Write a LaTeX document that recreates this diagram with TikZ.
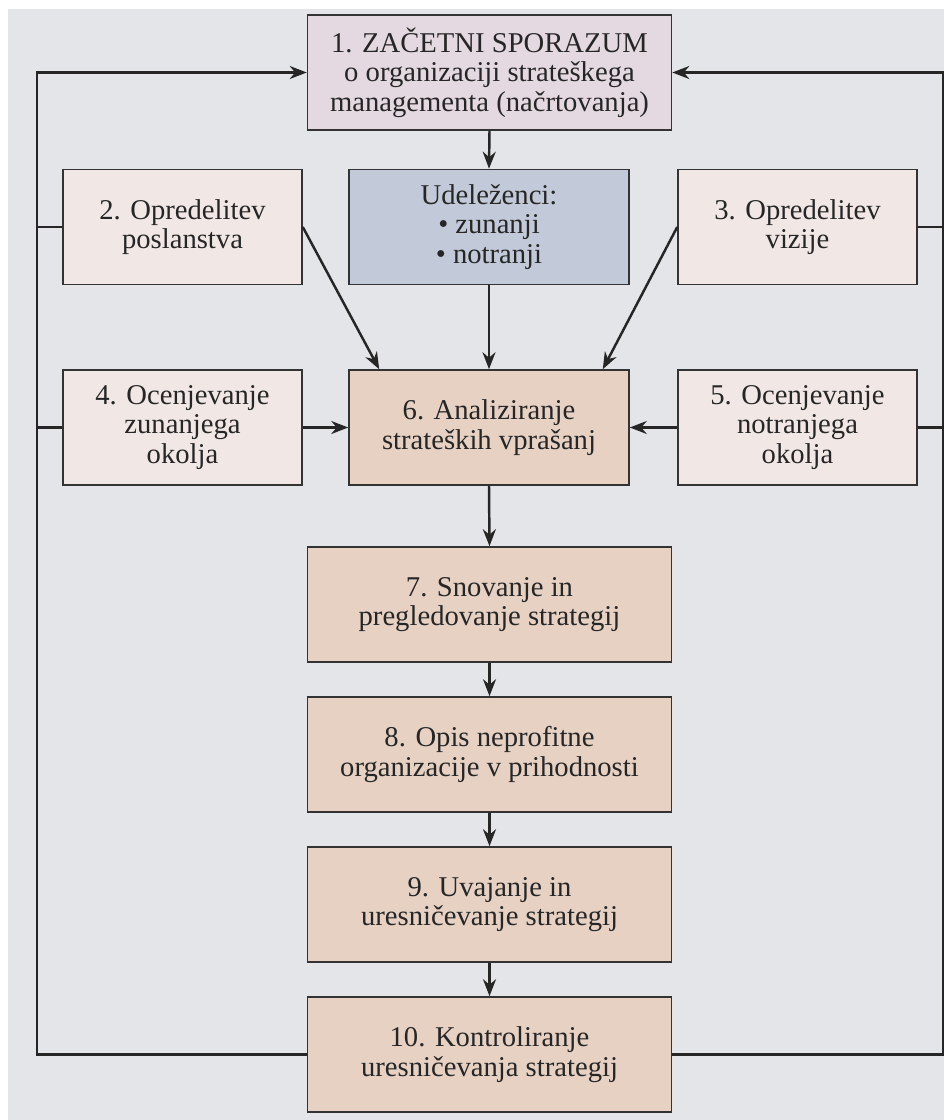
\documentclass[tikz,border=0pt]{standalone}
\usepackage{fontspec}
\setmainfont{Liberation Serif}
\usetikzlibrary{arrows.meta}
\definecolor{bggray}{HTML}{E3E5E8}
\definecolor{startfill}{HTML}{E4D9E0}
\definecolor{udelfill}{HTML}{C2CAD9}
\definecolor{sidefill}{HTML}{F1E8E5}
\definecolor{stepfill}{HTML}{E6D1C3}
\definecolor{boxline}{HTML}{333333}
\definecolor{lineblack}{HTML}{262626}

\begin{document}
\begin{tikzpicture}[x=0.2mm, y=0.2mm]
    \tikzstyle{every node}+=[inner sep=0pt, align=center, text=black!85,
        font=\fontsize{16.3}{16.8}\selectfont]
    \tikzstyle{box}=[draw=boxline, line width=0.9pt, minimum height=2.3cm]
    \tikzstyle{wide}=[box, minimum width=7.28cm]
    \tikzstyle{mid}=[box, minimum width=5.6cm]
    \tikzstyle{side}=[box, fill=sidefill, minimum width=4.78cm]
    \tikzstyle{link}=[draw=lineblack, line width=1.4pt]
    \tikzstyle{arr}=[link, -{Stealth[length=0.34cm,width=0.26cm]}]

    \useasboundingbox (0,0) rectangle (944,-1120);
    \fill [bggray] (8,-9) rectangle (944,-1120);

    % top of the loop
    \node [wide, fill=startfill] (start) at (489.5,-72.5)
        {1. ZAČETNI SPORAZUM\\o organizaciji strateškega\\managementa (načrtovanja)};
    \node [mid, fill=udelfill] (udel) at (489,-227)
        {Udeleženci:\\\textbullet\ zunanji\\\textbullet\ notranji};
    \node [side] (mission) at (182.5,-227) {2. Opredelitev\\poslanstva};
    \node [side] (vision) at (797.5,-227) {3. Opredelitev\\vizije};
    \node [side] (external) at (182.5,-427.5) {4. Ocenjevanje\\zunanjega\\okolja};
    \node [mid, fill=stepfill] (analysis) at (489,-427.5)
        {6. Analiziranje\\strateških vprašanj};
    \node [side] (internal) at (797.5,-427.5) {5. Ocenjevanje\\notranjega\\okolja};

    % main column
    \node [wide, fill=stepfill] (design) at (489.5,-604.5)
        {7. Snovanje in\\pregledovanje strategij};
    \node [wide, fill=stepfill] (future) at (489.5,-754.5)
        {8. Opis neprofitne\\organizacije v prihodnosti};
    \node [wide, fill=stepfill] (impl) at (489.5,-904.5)
        {9. Uvajanje in\\uresničevanje strategij};
    \node [wide, fill=stepfill] (control) at (489.5,-1054.5)
        {10. Kontroliranje\\uresničevanja strategij};

    \coordinate (lbus) at (37,0);
    \coordinate (rbus) at (943,0);

    \draw [arr] (start.south) -- (udel.north);
    \draw [arr] (udel.south) -- (analysis.north);
    \draw [arr] (mission.east) -- ([xshift=0.62cm]analysis.north west);
    \draw [arr] (vision.west) -- ([xshift=-0.54cm]analysis.north east);
    \draw [arr] (external.east) -- (analysis.west);
    \draw [arr] (internal.west) -- (analysis.east);
    \draw [arr] (analysis.south) -- (design.north);
    \draw [arr] (design.south) -- (future.north);
    \draw [arr] (future.south) -- (impl.north);
    \draw [arr] (impl.south) -- (control.north);

    % feedback back to the start
    \draw [arr] (control.west) -| (lbus |- start.west) -- (start.west);
    \draw [arr] (control.east) -| (rbus |- start.east) -- (start.east);
    \draw [link] (mission.west) -- (lbus |- mission.west);
    \draw [link] (external.west) -- (lbus |- external.west);
    \draw [link] (vision.east) -- (rbus |- vision.east);
    \draw [link] (internal.east) -- (rbus |- internal.east);
\end{tikzpicture}
\end{document}
